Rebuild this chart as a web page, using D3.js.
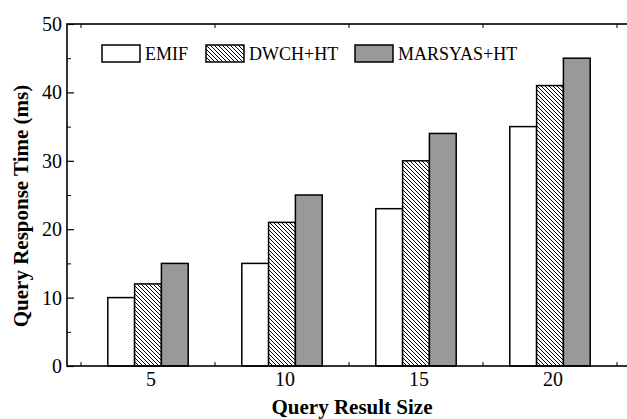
<!DOCTYPE html>
<html>
<head>
<meta charset="utf-8">
<script src="https://cdn.jsdelivr.net/npm/d3@7"></script>
<style>
  body { margin: 0; background: #fff; }
  svg { display: block; font-family: "Liberation Serif", "Times New Roman", serif; }
</style>
</head>
<body>
<div id="chart"></div>
<script>
// query result sizes
var sizes = ["5", "10", "15", "20"];

// series
var seriesNames = ["EMIF", "DWCH+HT", "MARSYAS+HT"];
var emif    = [10, 15, 23, 35];
var dwch    = [12, 21, 30, 41];
var marsyas = [15, 25, 34, 45];

// y ticks
var yTicks = [0, 10, 20, 30, 40, 50];
var yMinorTicks = [5, 15, 25, 35, 45];

var W = 627, H = 419;
var margin = {top: 24, right: 0, bottom: 53, left: 67};
var plotRight = 628;  // right frame sits just outside the picture
var plotBottom = H - margin.bottom;

var svg = d3.select("#chart")
    .append("svg")
        .attr("width", W)
        .attr("height", H);

var defs = svg.append("defs");
var hatch = defs.append("pattern")
    .attr("id", "hatch")
    .attr("patternUnits", "userSpaceOnUse")
    .attr("width", 4)
    .attr("height", 4);
hatch.append("rect").attr("width", 4).attr("height", 4).attr("fill", "#fff");
hatch.append("path")
    .attr("d", "M0,0 L4,4 M-1,3 L1,5 M3,-1 L5,1")
    .attr("stroke", "#000")
    .attr("stroke-width", 1);

var fills = {"EMIF": "#fff", "DWCH+HT": "url(#hatch)", "MARSYAS+HT": "#999999"};

// scales
var x = d3.scaleBand()
    .domain(sizes)
    .range([81, 617])
    .padding(0);

var xSub = d3.scaleBand()
    .domain(seriesNames)
    .range([x.bandwidth() * 0.2, x.bandwidth() * 0.8]);

var y = d3.scaleLinear()
    .domain([0, 50])
    .range([plotBottom, margin.top]);

var rows = sizes.map(function(s, i) {
    return {size: s, values: [
        {key: "EMIF", value: emif[i]},
        {key: "DWCH+HT", value: dwch[i]},
        {key: "MARSYAS+HT", value: marsyas[i]}
    ]};
});

// bars
var groups = svg.append("g").selectAll("g")
    .data(rows)
    .enter()
    .append("g")
        .attr("transform", function(d) { return "translate(" + x(d.size) + ",0)"; });

groups.selectAll("rect")
    .data(function(d) { return d.values; })
    .enter()
    .append("rect")
        .attr("x", function(d) { return xSub(d.key); })
        .attr("y", function(d) { return y(d.value); })
        .attr("width", xSub.bandwidth())
        .attr("height", function(d) { return plotBottom - y(d.value); })
        .attr("fill", function(d) { return fills[d.key]; })
        .attr("stroke", "#000")
        .attr("stroke-width", 1.5);

// frame
svg.append("rect")
    .attr("x", margin.left)
    .attr("y", margin.top)
    .attr("width", plotRight - margin.left)
    .attr("height", plotBottom - margin.top)
    .attr("fill", "none")
    .attr("stroke", "#000")
    .attr("stroke-width", 1.6);

// left axis (inward ticks)
var yAxis = svg.append("g")
    .attr("transform", "translate(" + margin.left + ",0)")
    .call(d3.axisRight(y).tickValues(yTicks).tickSize(7).tickFormat(""));
yAxis.select(".domain").remove();
yAxis.selectAll("line").attr("stroke-width", 1.2);

var yMinor = svg.append("g")
    .attr("transform", "translate(" + margin.left + ",0)")
    .call(d3.axisRight(y).tickValues(yMinorTicks).tickSize(4).tickFormat(""));
yMinor.select(".domain").remove();

svg.append("g").selectAll("text")
    .data(yTicks)
    .enter()
    .append("text")
        .attr("x", margin.left - 5)
        .attr("y", function(d) { return y(d); })
        .attr("dy", "0.35em")
        .attr("text-anchor", "end")
        .style("font-size", "20px")
        .text(function(d) { return d; });

// band boundary ticks on bottom and top
var bounds = sizes.map(function(s) { return x(s); }).concat([x(sizes[sizes.length - 1]) + x.bandwidth()]);
svg.append("g").selectAll("line")
    .data(bounds)
    .enter()
    .append("line")
        .attr("x1", function(d) { return d; })
        .attr("x2", function(d) { return d; })
        .attr("y1", plotBottom)
        .attr("y2", plotBottom - 4)
        .attr("stroke", "#000");
svg.append("g").selectAll("line")
    .data(bounds)
    .enter()
    .append("line")
        .attr("x1", function(d) { return d; })
        .attr("x2", function(d) { return d; })
        .attr("y1", margin.top)
        .attr("y2", margin.top + 4)
        .attr("stroke", "#000");

// x tick labels
svg.append("g").selectAll("text")
    .data(sizes)
    .enter()
    .append("text")
        .attr("x", function(d) { return x(d) + x.bandwidth() / 2 + 3; })
        .attr("y", plotBottom + 20)
        .attr("text-anchor", "middle")
        .style("font-size", "20px")
        .text(function(d) { return d; });

// axis titles
svg.append("text")
    .attr("x", 352)
    .attr("y", 414)
    .attr("text-anchor", "middle")
    .style("font-size", "21px")
    .style("font-weight", "bold")
    .text("Query Result Size");

svg.append("text")
    .attr("transform", "translate(28,206) rotate(-90)")
    .attr("text-anchor", "middle")
    .style("font-size", "21px")
    .style("font-weight", "bold")
    .text("Query Response Time (ms)");

// legend
var legendX = [102, 206, 355];
var legend = svg.append("g").selectAll("g")
    .data(seriesNames)
    .enter()
    .append("g")
        .attr("transform", function(d, i) { return "translate(" + legendX[i] + ",45)"; });
legend.append("rect")
    .attr("width", 38)
    .attr("height", 17)
    .attr("fill", function(d) { return fills[d]; })
    .attr("stroke", "#000")
    .attr("stroke-width", 1.5);
legend.append("text")
    .attr("x", 43)
    .attr("y", 15)
    .style("font-size", "18px")
    .text(function(d) { return d; });
</script>
</body>
</html>
